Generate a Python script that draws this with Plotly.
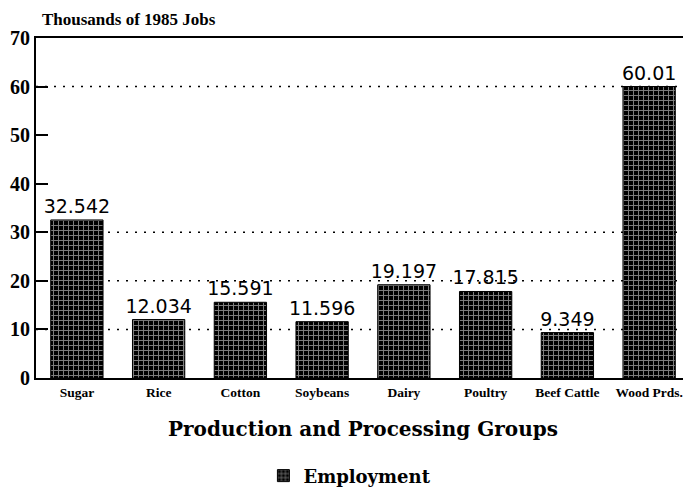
import plotly.graph_objects as go

categories = ["Sugar", "Rice", "Cotton", "Soybeans", "Dairy", "Poultry", "Beef Cattle", "Wood Prds."]
employment = [32.542, 12.034, 15.591, 11.596, 19.197, 17.815, 9.349, 60.01]
value_labels = ["32.542", "12.034", "15.591", "11.596", "19.197", "17.815", "9.349", "60.01"]
y_ticks = [0, 10, 20, 30, 40, 50, 60, 70]
grid_values = [10, 20, 30, 60]

serif = "Liberation Serif, Times New Roman, serif"
wide_serif = "DejaVu Serif, serif"
sans = "DejaVu Sans, Arial, sans-serif"

fig = go.Figure()
fig.add_trace(go.Bar(
    x=categories, y=employment, name="Employment",
    text=value_labels, textposition="outside", constraintext="none",
    textfont=dict(family=sans, size=19, color="black"),
    cliponaxis=False,
    marker=dict(color="black", line=dict(color="black", width=1),
                pattern=dict(shape="+", fgcolor="white", bgcolor="black", size=5, solidity=0.35)),
))

for g in grid_values:
    fig.add_hline(y=g, line=dict(color="black", width=1.5, dash="2px,7px"), layer="below")

# page body has an 8px default margin, so the figure is sized to fit the window
fig.update_layout(
    width=683, height=481,
    margin=dict(l=28, r=1, t=30, b=111, autoexpand=False),
    plot_bgcolor="white", paper_bgcolor="white",
    bargap=0.36,
    showlegend=True,
    legend=dict(orientation="h", x=0.48, xanchor="center", y=-0.288, yanchor="middle",
                font=dict(family=wide_serif, size=18, color="black", weight="bold")),
    font=dict(family=serif, color="black"),
    annotations=[dict(text="<b>Thousands of 1985 Jobs</b>", xref="paper", yref="paper",
                      x=0.006, y=1.0, xanchor="left", yanchor="top", yshift=30, showarrow=False,
                      font=dict(family=serif, size=17, color="black"))],
)
fig.update_xaxes(
    title=dict(text="<b>Production and Processing Groups</b>", font=dict(family=wide_serif, size=20), standoff=23),
    tickfont=dict(family=serif, size=13.5, color="black", weight="bold"),
    ticklabelstandoff=1,
    showline=True, linecolor="black", linewidth=2, mirror=True, ticks="", showgrid=False,
    automargin=False,
)
fig.update_yaxes(
    range=[0, 70], tickvals=y_ticks,
    tickfont=dict(family=serif, size=20, color="black", weight="bold"),
    showline=True, linecolor="black", linewidth=2, mirror=True,
    ticks="inside", ticklen=12, tickcolor="black", tickwidth=2,
    showgrid=False, zeroline=False, automargin=False,
)
fig.write_html("out.html")
